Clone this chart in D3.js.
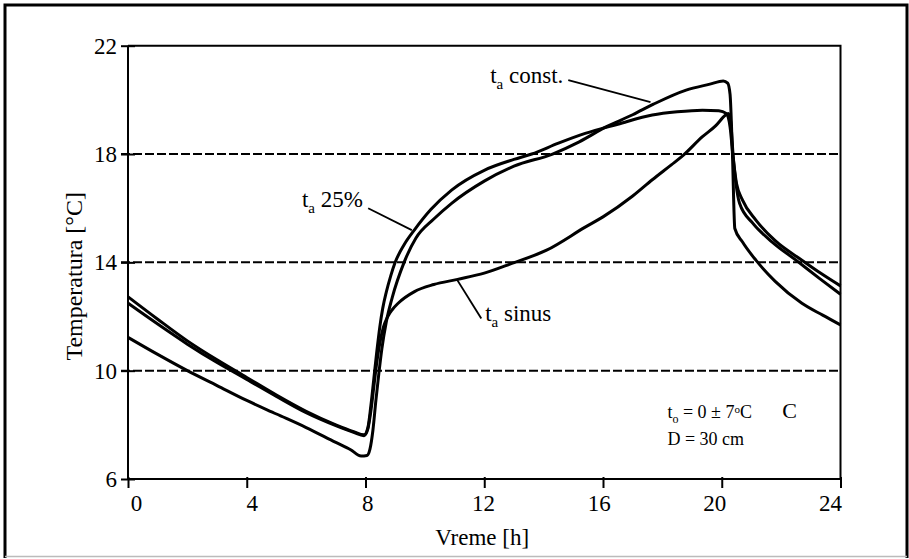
<!DOCTYPE html>
<html>
<head>
<meta charset="utf-8">
<script src="https://cdn.jsdelivr.net/npm/d3@7/dist/d3.min.js"></script>
<style>
html,body{margin:0;padding:0;background:#fff;}
svg{display:block;}
</style>
</head>
<body>
<svg id="chart" width="909" height="559"></svg>
<script>
// ---- data ----
const xTicks = [0, 4, 8, 12, 16, 20, 24];
const yTicks = [6, 10, 14, 18, 22];
const gridValues = [10, 14, 18];

const constHours = [0,1,2,3,4,5,6,7,7.5,7.85,8.05,8.15,8.25,8.35,8.45,8.55,8.7,8.9,9.3,9.7,10.3,10.9,12,13,14.3,15.2,16.1,17,17.7,18.8,19.6,20.05,20.2,20.28,20.36,20.44,20.7,21.15,21.8,22.7,23.4,24];
const constTemp  = [11.23,10.6,10.0,9.45,8.9,8.4,7.9,7.35,7.08,6.85,6.87,7.1,7.8,8.9,9.9,10.8,11.8,12.7,14.0,14.9,15.6,16.18,17.0,17.55,18.0,18.45,19.0,19.45,19.84,20.36,20.58,20.7,20.62,20.2,18.0,15.25,14.75,14.08,13.3,12.49,12.05,11.69];

const p25Hours = [0,1,2,3,4,5,6,7,7.6,7.95,8.08,8.18,8.28,8.38,8.48,8.58,8.7,8.85,9.0,9.3,9.65,10.2,10.9,12,13,13.6,14.5,15.4,16.5,17.66,18.5,19.35,19.9,20.15,20.28,20.38,20.5,20.7,21.15,21.8,22.7,23.4,24];
const p25Temp  = [12.73,11.9,11.1,10.4,9.75,9.1,8.5,8.0,7.75,7.63,7.9,8.7,9.7,10.7,11.6,12.3,12.9,13.5,14.0,14.65,15.2,15.95,16.67,17.4,17.8,18.0,18.4,18.76,19.1,19.44,19.56,19.62,19.6,19.5,19.0,17.9,16.9,16.3,15.56,14.8,14.08,13.55,13.13];

const sinHours = [0,1,2,3,4,5,6,7,7.6,7.95,8.08,8.18,8.28,8.38,8.48,8.6,8.75,8.9,9.1,9.65,10.3,11.1,12,12.93,14.1,15.4,16,17,17.66,18.3,18.7,19.35,19.8,20.12,20.22,20.3,20.38,20.48,20.6,21.05,21.7,22.5,23.3,24];
const sinTemp  = [12.49,11.72,10.98,10.3,9.68,9.05,8.45,7.97,7.72,7.6,7.85,8.5,9.4,10.3,11.0,11.6,12.0,12.25,12.49,12.92,13.18,13.37,13.6,13.96,14.45,15.3,15.68,16.45,17.05,17.6,17.95,18.64,19.05,19.43,19.5,19.2,18.0,16.9,16.18,15.44,14.75,14.08,13.4,12.82];

// annotations (data units): label position, leader line from -> to
const labelNames = ["const.", "25%", "sinus"];
const labelPos   = [[12.2, 20.62], [5.86, 16.04], [12.03, 11.83]];
const leaderFrom = [[14.83, 20.73], [8.09, 16.0], [11.9, 11.93]];
const leaderTo   = [[17.6, 19.92], [9.56, 15.19], [11.08, 13.37]];

// ---- drawing ----
const FONT = "'Times New Roman', 'Liberation Serif', 'DejaVu Serif', serif";
const svg = d3.select("#chart");
const W = 909, H = 559;
svg.append("rect").attr("width", W).attr("height", H).attr("fill", "#fff");

// outer frame
svg.append("path").attr("d", "M5,558 V5 H907 V558")
  .attr("fill", "none").attr("stroke", "#000").attr("stroke-width", 3);
svg.append("line").attr("x1", 5).attr("x2", 907).attr("y1", 556.5).attr("y2", 556.5)
  .attr("stroke", "#bbb").attr("stroke-width", 1.5);

const x = d3.scaleLinear().domain([0, 24]).range([128, 840.5]);
const y = d3.scaleLinear().domain([6, 22]).range([479, 45.7]);
const xLabel = d3.scaleLinear().domain([0, 24]).range([136, 830]);

// gridlines
svg.append("g").selectAll("line").data(gridValues).join("line")
  .attr("x1", x(0) - 7).attr("x2", x(24))
  .attr("y1", d => y(d)).attr("y2", d => y(d))
  .attr("stroke", "#000").attr("stroke-width", 2)
  .attr("stroke-dasharray", "9,3");

// box top + right
svg.append("path")
  .attr("d", `M${x(0)},${y(22)} H${x(24)} V${y(6)}`)
  .attr("fill", "none").attr("stroke", "#000").attr("stroke-width", 2);

// y axis
const gy = svg.append("g").attr("transform", `translate(${x(0)},0)`)
  .call(d3.axisLeft(y).tickValues(yTicks).tickSize(7).tickPadding(12).tickFormat(d3.format("d")))
  .attr("font-family", FONT);
gy.select(".domain").attr("stroke-width", 2).attr("d", `M0,${y(22)}V${y(6)}`);
gy.selectAll(".tick line").attr("x1", 7).attr("x2", -7).attr("stroke-width", 2);
gy.selectAll(".tick text").attr("font-size", 23).attr("x", -11).attr("dy", "0.33em")
  .attr("font-family", FONT).attr("fill", "#000");

// x axis
const gx = svg.append("g").attr("transform", `translate(0,${y(6)})`)
  .call(d3.axisBottom(x).tickValues(xTicks).tickSize(9).tickFormat(d3.format("d")))
  .attr("font-family", FONT);
gx.select(".domain").attr("stroke-width", 2).attr("d", `M${x(0)},0H${x(24)}`);
gx.selectAll(".tick line").attr("y1", -2).attr("y2", 9).attr("stroke-width", 2);
gx.selectAll(".tick text").attr("font-size", 23).attr("y", 32).attr("dy", 0)
  .attr("x", d => xLabel(d) - x(d))
  .attr("font-family", FONT).attr("fill", "#000");
svg.selectAll(".domain").attr("stroke", "#000");
svg.selectAll(".tick line").attr("stroke", "#000");

// axis titles
svg.append("text").attr("x", (x(0) + x(24)) / 2 - 2).attr("y", 545)
  .attr("text-anchor", "middle").attr("font-size", 23).attr("font-family", FONT).text("Vreme [h]");
svg.append("text").attr("transform", `translate(82,${(y(22) + y(6)) / 2 + 14}) rotate(-90)`)
  .attr("text-anchor", "middle").attr("font-size", 24).attr("font-family", FONT).text("Temperatura [°C]");

// curves
const line = d3.line().x(d => x(d[0])).y(d => y(d[1])).curve(d3.curveMonotoneX);
const series = [
  d3.zip(constHours, constTemp),
  d3.zip(p25Hours, p25Temp),
  d3.zip(sinHours, sinTemp)
];
svg.append("g").selectAll("path").data(series).join("path")
  .attr("d", line).attr("fill", "none").attr("stroke", "#000")
  .attr("stroke-width", 3).attr("stroke-linejoin", "round");

// leaders
svg.append("g").selectAll("line").data(d3.range(3)).join("line")
  .attr("x1", i => x(leaderFrom[i][0])).attr("y1", i => y(leaderFrom[i][1]))
  .attr("x2", i => x(leaderTo[i][0])).attr("y2", i => y(leaderTo[i][1]))
  .attr("stroke", "#000").attr("stroke-width", 1.8);

// labels t_a ...
labelNames.forEach((name, i) => {
  const t = svg.append("text").attr("x", x(labelPos[i][0])).attr("y", y(labelPos[i][1]))
    .attr("font-size", 23).attr("font-family", FONT);
  t.append("tspan").text("t");
  t.append("tspan").attr("font-size", 15).attr("dy", 6).text("a");
  t.append("tspan").attr("dy", -6).text(" " + name);
});

// info text
const info = svg.append("text").attr("x", x(18.17)).attr("y", y(8.25)).attr("font-size", 18).attr("font-family", FONT);
info.append("tspan").text("t");
info.append("tspan").attr("font-size", 12).attr("dy", 5).text("o");
info.append("tspan").attr("dy", -5).text(" = 0 ± 7");
info.append("tspan").attr("font-size", 11).attr("dy", -5).text("o");
info.append("tspan").attr("dy", 5).text("C");
svg.append("text").attr("x", x(22.04)).attr("y", y(8.25)).attr("font-size", 22).attr("font-family", FONT).text("C");
svg.append("text").attr("x", x(18.17)).attr("y", y(7.26)).attr("font-size", 18).attr("font-family", FONT).text("D = 30 cm");
</script>
</body>
</html>
